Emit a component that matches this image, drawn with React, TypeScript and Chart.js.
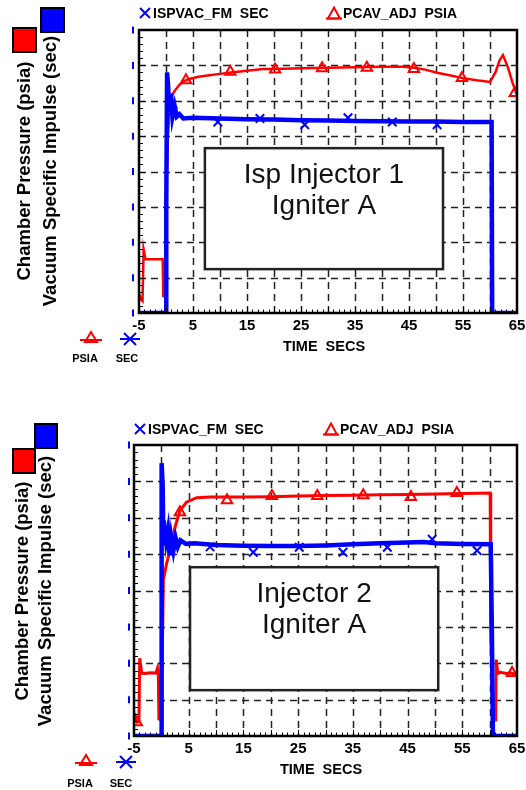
import React, { useEffect, useRef } from 'react';
import { Chart, registerables } from 'chart.js';

Chart.register(...registerables);

const FONT = "'Liberation Sans', Arial, Helvetica, sans-serif";
const RED = '#ff0000';
const BLUE = '#0000ff';

// ---- shared axis data ----
const xMin = -5;
const xMax = 65;
const yMin = 0;
const yMax = 8;
const xTickLabels = [-5, 5, 15, 25, 35, 45, 55, 65];
const xGridValues = [0, 5, 10, 15, 20, 25, 30, 35, 40, 45, 50, 55, 60];
const yGridValues = [1, 2, 3, 4, 5, 6, 7];

// ---- texts ----
const legendLabels = ['ISPVAC_FM  SEC', 'PCAV_ADJ  PSIA'];
const keyLabels = ['PSIA', 'SEC'];
const yTitleLines = ['Chamber Pressure (psia)', 'Vacuum Specific Impulse (sec)'];
const xTitle = 'TIME  SECS';
const boxLines1 = ['Isp Injector 1', 'Igniter A'];
const boxLines2 = ['Injector 2', 'Igniter A'];

// ---- test 1 data (grid units) ----
const pcav1Time = [-5, -4.6, -4.35, -4.15, -3.8, -3, -2, -1, -0.62, -0.5, -0.07, 0.1, 0.35, 0.8, 1.3, 1.8, 2.5, 3.2, 4.5, 6, 8, 10, 12, 15, 18, 20, 25, 30, 35, 40, 44, 46, 48, 50, 52.5, 55, 57.5, 60, 61, 61.8, 62.4, 63.3, 64.2, 65];
const pcav1Value = [0.54, 0.38, 0.34, 1.8, 1.52, 1.52, 1.52, 1.52, 1.52, 0.48, 0.45, 3.75, 5.0, 6.0, 6.2, 6.32, 6.45, 6.55, 6.62, 6.68, 6.72, 6.76, 6.8, 6.85, 6.9, 6.9, 6.92, 6.93, 6.95, 6.96, 6.96, 6.93, 6.88, 6.8, 6.72, 6.64, 6.58, 6.53, 6.8, 7.15, 7.29, 6.95, 6.5, 6.16];
const ispvac1Time = [-5, 0, 0.05, 0.2, 0.4, 0.6, 0.9, 1.2, 1.6, 2.0, 2.5, 3.2, 5, 10, 15, 20, 25, 30, 35, 40, 45, 50, 55, 60.3, 60.4, 65];
const ispvac1Value = [0, 0, 3.0, 6.8, 6.4, 5.7, 6.2, 5.55, 5.85, 5.55, 5.62, 5.5, 5.52, 5.5, 5.48, 5.47, 5.45, 5.44, 5.43, 5.42, 5.41, 5.41, 5.4, 5.4, 0, 0];
const pcav1MarkTime = [3.7, 11.9, 20.2, 28.9, 37.2, 45.9, 54.8, 64.6];
const pcav1MarkValue = [6.58, 6.82, 6.88, 6.92, 6.93, 6.9, 6.64, 6.22];
const ispvac1MarkTime = [1.3, 9.6, 17.4, 25.7, 33.7, 41.9, 50.2];
const ispvac1MarkValue = [5.7, 5.4, 5.5, 5.32, 5.52, 5.4, 5.32];

// ---- test 2 data (grid units) ----
const pcav2Time = [-5, -4.85, -4.5, -4.1, -3.95, -3.6, -3, -2, -1, -0.7, -0.55, -0.45, -0.05, 0.05, 0.25, 0.36, 0.97, 1.58, 2.5, 3.4, 4.6, 6.45, 8.9, 12, 15, 20, 25, 30, 35, 40, 45, 50, 55, 60.1, 60.2, 60.6, 61.1, 61.2, 61.5, 62, 63, 64, 65];
const pcav2Value = [0.63, 0.5, 0.38, 0.4, 2.14, 1.73, 1.72, 1.74, 1.73, 1.87, 1.7, 0.47, 0.45, 1.5, 3.0, 4.3, 4.75, 5.1, 5.74, 6.2, 6.43, 6.55, 6.57, 6.57, 6.57, 6.58, 6.6, 6.61, 6.62, 6.63, 6.64, 6.65, 6.67, 6.68, 3.0, 0.44, 0.44, 2.1, 1.72, 1.75, 1.72, 1.73, 1.68];
const ispvac2Time = [-5, -0.05, 0.0, 0.1, 0.25, 0.35, 0.45, 0.6, 0.75, 0.9, 1.2, 1.5, 1.8, 2.2, 2.6, 3.0, 3.5, 4.5, 6, 10, 15, 20, 25, 30, 35, 40, 45, 48, 50, 55, 60.2, 60.4, 60.6, 65];
const ispvac2Value = [0, 0, 3.5, 7.5, 6.84, 5.3, 5.93, 5.38, 5.74, 5.4, 5.66, 4.97, 5.47, 5.1, 5.45, 5.2, 5.38, 5.28, 5.3, 5.25, 5.23, 5.22, 5.22, 5.24, 5.27, 5.3, 5.32, 5.33, 5.3, 5.28, 5.27, 3.0, 0, 0];
const pcav2MarkTime = [-4.5, 3.4, 12, 20.2, 28.5, 36.9, 45.6, 54, 64.1];
const pcav2MarkValue = [0.38, 6.15, 6.48, 6.6, 6.6, 6.62, 6.57, 6.68, 1.73];
const ispvac2MarkTime = [0.8, 8.9, 16.8, 25.2, 33.2, 41.3, 49.5, 57.7];
const ispvac2MarkValue = [5.5, 5.2, 5.05, 5.19, 5.05, 5.19, 5.41, 5.1];

const W = 526;
const H = 395;

type Spec = {
  pcavT: number[]; pcavV: number[]; ispT: number[]; ispV: number[];
  pcavMT: number[]; pcavMV: number[]; ispMT: number[]; ispMV: number[];
  boxLines: string[];
  redWidth: number; blueWidth: number;
  area: { left: number; top: number; right: number; bottom: number };
  box: { x0: number; x1: number; y0: number; y1: number };
  legendY: number; legendBlueX: number; legendRedX: number;
  yTitleCY: number; yTitleX1: number; yTitleX2: number;
  redSq: number[]; blueSq: number[];
  keyY: number; keyLabelY: number; keyRedX: number; keyBlueX: number; keyRedLabelX: number; keyBlueLabelX: number;
  xTitleX: number; xTitleY: number;
  blueTickOffset: number;
};

const spec1: Spec = {
  pcavT: pcav1Time, pcavV: pcav1Value, ispT: ispvac1Time, ispV: ispvac1Value,
  pcavMT: pcav1MarkTime, pcavMV: pcav1MarkValue, ispMT: ispvac1MarkTime, ispMV: ispvac1MarkValue,
  boxLines: boxLines1, redWidth: 2.5, blueWidth: 4.5,
  area: { left: 139, top: 30, right: 517, bottom: 313 },
  box: { x0: 7.2, x1: 51.3, y0: 1.24, y1: 4.66 },
  legendY: 13, legendBlueX: 145, legendRedX: 334,
  yTitleCY: 171, yTitleX1: 30, yTitleX2: 56,
  redSq: [13, 28, 23, 24], blueSq: [41, 8, 23, 24],
  keyY: 339, keyLabelY: 359, keyRedX: 91, keyBlueX: 130, keyRedLabelX: 85, keyBlueLabelX: 127,
  xTitleX: 324, xTitleY: 347,
  blueTickOffset: 6,
};

const spec2: Spec = {
  pcavT: pcav2Time, pcavV: pcav2Value, ispT: ispvac2Time, ispV: ispvac2Value,
  pcavMT: pcav2MarkTime, pcavMV: pcav2MarkValue, ispMT: ispvac2MarkTime, ispMV: ispvac2MarkValue,
  boxLines: boxLines2, redWidth: 3, blueWidth: 4.5,
  area: { left: 134, top: 50, right: 517, bottom: 341 },
  box: { x0: 5.24, x1: 50.6, y0: 1.26, y1: 4.64 },
  legendY: 34, legendBlueX: 140, legendRedX: 331,
  yTitleCY: 196, yTitleX1: 28, yTitleX2: 51,
  redSq: [13, 54, 22, 24], blueSq: [35, 29, 22, 24],
  keyY: 367, keyLabelY: 389, keyRedX: 86, keyBlueX: 126, keyRedLabelX: 80, keyBlueLabelX: 121,
  xTitleX: 321, xTitleY: 375,
  blueTickOffset: 5,
};

function pts(t: number[], v: number[]) {
  return t.map((x, i) => ({ x, y: v[i] }));
}

function drawX(ctx: CanvasRenderingContext2D, cx: number, cy: number, r: number) {
  ctx.beginPath();
  ctx.moveTo(cx - r, cy - r); ctx.lineTo(cx + r, cy + r);
  ctx.moveTo(cx + r, cy - r); ctx.lineTo(cx - r, cy + r);
  ctx.stroke();
}

function drawTri(ctx: CanvasRenderingContext2D, cx: number, cy: number, w: number, h: number) {
  ctx.beginPath();
  ctx.moveTo(cx, cy - h / 2);
  ctx.lineTo(cx + w / 2, cy + h / 2);
  ctx.lineTo(cx - w / 2, cy + h / 2);
  ctx.closePath();
  ctx.stroke();
}

function makeDecor(s: Spec) {
  return {
    id: 'decor',
    beforeDatasetsDraw(chart: any) {
      const { ctx, chartArea: a, scales } = chart;
      const x = scales.x, y = scales.y;
      ctx.save();
      ctx.strokeStyle = '#222';
      ctx.lineWidth = 1.5;
      ctx.setLineDash([7, 5]);
      for (const v of xGridValues) {
        const px = Math.round(x.getPixelForValue(v)) + 0.5;
        ctx.beginPath(); ctx.moveTo(px, a.top); ctx.lineTo(px, a.bottom); ctx.stroke();
      }
      for (const v of yGridValues) {
        const py = Math.round(y.getPixelForValue(v)) + 0.5;
        ctx.beginPath(); ctx.moveTo(a.left, py); ctx.lineTo(a.right, py); ctx.stroke();
      }
      ctx.setLineDash([]);
      // annotation box
      const bx0 = x.getPixelForValue(s.box.x0), bx1 = x.getPixelForValue(s.box.x1);
      const by0 = y.getPixelForValue(s.box.y1), by1 = y.getPixelForValue(s.box.y0);
      ctx.fillStyle = '#fff';
      ctx.fillRect(bx0, by0, bx1 - bx0, by1 - by0);
      ctx.strokeStyle = '#222';
      ctx.lineWidth = 2.5;
      ctx.strokeRect(bx0, by0, bx1 - bx0, by1 - by0);
      ctx.fillStyle = '#111';
      ctx.font = `28px ${FONT}`;
      ctx.textAlign = 'center';
      ctx.textBaseline = 'alphabetic';
      s.boxLines.forEach((line, i) => ctx.fillText(line, (bx0 + bx1) / 2, by0 + 35 + i * 30.5));
      ctx.restore();
    },
    afterDatasetsDraw(chart: any) {
      const { ctx, chartArea: a, scales } = chart;
      const x = scales.x, y = scales.y;
      ctx.save();
      ctx.strokeStyle = '#000';
      ctx.lineWidth = 1;
      // minor ticks y (5 per grid unit)
      for (let i = 0; i <= (yMax - yMin) * 5; i++) {
        const py = Math.round(y.getPixelForValue(yMin + i / 5)) + 0.5;
        ctx.beginPath(); ctx.moveTo(a.left, py); ctx.lineTo(a.left + (i % 5 === 0 ? 6 : 4), py); ctx.stroke();
      }
      // minor ticks x (every 1)
      for (let v = xMin; v <= xMax; v++) {
        const px = Math.round(x.getPixelForValue(v)) + 0.5;
        ctx.beginPath(); ctx.moveTo(px, a.bottom); ctx.lineTo(px, a.bottom - ((v - xMin) % 5 === 0 ? 6 : 3.5)); ctx.stroke();
      }
      // frame
      ctx.lineWidth = 2.5;
      ctx.strokeRect(a.left, a.top, a.right - a.left, a.bottom - a.top);
      // blue marks outside left axis
      ctx.strokeStyle = BLUE;
      ctx.lineWidth = 2;
      for (let v = yMin; v <= yMax; v++) {
        const py = y.getPixelForValue(v);
        const bx = a.left - s.blueTickOffset;
        ctx.beginPath(); ctx.moveTo(bx, py - 3.5); ctx.lineTo(bx, py + 3.5); ctx.stroke();
      }
      ctx.restore();
    },
    afterDraw(chart: any) {
      const { ctx } = chart;
      ctx.save();
      // top legend
      ctx.lineWidth = 2;
      ctx.strokeStyle = BLUE;
      drawX(ctx, s.legendBlueX, s.legendY, 5);
      ctx.strokeStyle = RED;
      drawTri(ctx, s.legendRedX, s.legendY, 12, 11);
      ctx.beginPath(); ctx.moveTo(s.legendRedX - 8, s.legendY + 5.5); ctx.lineTo(s.legendRedX + 8, s.legendY + 5.5); ctx.stroke();
      ctx.fillStyle = '#000';
      ctx.font = `bold 14px ${FONT}`;
      ctx.textAlign = 'left';
      ctx.textBaseline = 'middle';
      ctx.fillText(legendLabels[0], s.legendBlueX + 8, s.legendY + 1);
      ctx.fillText(legendLabels[1], s.legendRedX + 9, s.legendY + 1);

      // y title squares
      ctx.lineWidth = 2;
      ctx.strokeStyle = '#000';
      ctx.fillStyle = RED;
      ctx.fillRect(s.redSq[0], s.redSq[1], s.redSq[2], s.redSq[3]);
      ctx.strokeRect(s.redSq[0], s.redSq[1], s.redSq[2], s.redSq[3]);
      ctx.fillStyle = BLUE;
      ctx.fillRect(s.blueSq[0], s.blueSq[1], s.blueSq[2], s.blueSq[3]);
      ctx.strokeRect(s.blueSq[0], s.blueSq[1], s.blueSq[2], s.blueSq[3]);

      // y titles (rotated)
      ctx.fillStyle = '#000';
      ctx.font = `bold 18.5px ${FONT}`;
      ctx.textAlign = 'center';
      ctx.textBaseline = 'alphabetic';
      [s.yTitleX1, s.yTitleX2].forEach((bx, i) => {
        ctx.save();
        ctx.translate(bx, s.yTitleCY);
        ctx.rotate(-Math.PI / 2);
        ctx.fillText(yTitleLines[i], 0, 0);
        ctx.restore();
      });

      // x title
      ctx.font = `bold 14.5px ${FONT}`;
      ctx.textBaseline = 'middle';
      ctx.fillText(xTitle, s.xTitleX, s.xTitleY);

      // bottom-left key
      ctx.lineWidth = 2;
      ctx.strokeStyle = RED;
      ctx.beginPath(); ctx.moveTo(s.keyRedX - 11, s.keyY + 1); ctx.lineTo(s.keyRedX + 11, s.keyY + 1); ctx.stroke();
      drawTri(ctx, s.keyRedX, s.keyY - 2, 12, 10);
      ctx.strokeStyle = BLUE;
      ctx.beginPath(); ctx.moveTo(s.keyBlueX - 10, s.keyY); ctx.lineTo(s.keyBlueX + 10, s.keyY); ctx.stroke();
      drawX(ctx, s.keyBlueX, s.keyY, 6);
      ctx.fillStyle = '#000';
      ctx.font = `bold 11px ${FONT}`;
      ctx.fillText(keyLabels[0], s.keyRedLabelX, s.keyLabelY);
      ctx.fillText(keyLabels[1], s.keyBlueLabelX, s.keyLabelY);
      ctx.restore();
    },
  };
}

function buildConfig(s: Spec): any {
  return {
    type: 'scatter',
    data: {
      datasets: [
        {
          label: 'ISPVAC_FM SEC markers', data: pts(s.ispMT, s.ispMV), showLine: false,
          pointStyle: 'crossRot', pointRadius: 6, borderColor: BLUE, borderWidth: 2, backgroundColor: BLUE,
        },
        {
          label: 'ISPVAC_FM SEC', data: pts(s.ispT, s.ispV), showLine: true,
          borderColor: BLUE, borderWidth: s.blueWidth, pointRadius: 0, tension: 0,
        },
        {
          label: 'PCAV_ADJ PSIA markers', data: pts(s.pcavMT, s.pcavMV), showLine: false,
          pointStyle: 'triangle', pointRadius: 6, borderColor: RED, borderWidth: 2, backgroundColor: 'rgba(0,0,0,0)',
        },
        {
          label: 'PCAV_ADJ PSIA', data: pts(s.pcavT, s.pcavV), showLine: true,
          borderColor: RED, borderWidth: s.redWidth, pointRadius: 0, tension: 0,
        },
      ],
    },
    options: {
      animation: false,
      responsive: false,
      devicePixelRatio: 1,
      events: [],
      layout: {
        padding: {
          left: s.area.left,
          top: s.area.top,
          right: W - s.area.right,
          bottom: H - s.area.bottom - 30,
        },
      },
      plugins: { legend: { display: false }, tooltip: { enabled: false }, title: { display: false } },
      scales: {
        x: {
          type: 'linear', min: xMin, max: xMax,
          grid: { display: false, drawTicks: false },
          border: { display: false },
          afterBuildTicks: (sc: any) => { sc.ticks = xTickLabels.map((v) => ({ value: v })); },
          afterFit: (sc: any) => { sc.height = 30; sc.paddingLeft = 0; sc.paddingRight = 0; },
          ticks: {
            autoSkip: false, maxRotation: 0, padding: 4, color: '#000',
            font: { family: FONT, size: 15, weight: 'bold' },
          },
        },
        y: {
          type: 'linear', min: yMin, max: yMax, display: false,
        },
      },
    },
    plugins: [makeDecor(s)],
  };
}

function ChartPanel({ spec }: { spec: Spec }) {
  const ref = useRef<HTMLCanvasElement>(null);
  useEffect(() => {
    const chart = new Chart(ref.current as HTMLCanvasElement, buildConfig(spec));
    return () => chart.destroy();
  }, [spec]);
  return <canvas ref={ref} width={W} height={H} style={{ display: 'block', width: W, height: H }} />;
}

export default function App() {
  return (
    <div style={{ position: 'absolute', left: 0, top: 0, width: W, height: H * 2, background: '#fff' }}>
      <ChartPanel spec={spec1} />
      <ChartPanel spec={spec2} />
    </div>
  );
}
